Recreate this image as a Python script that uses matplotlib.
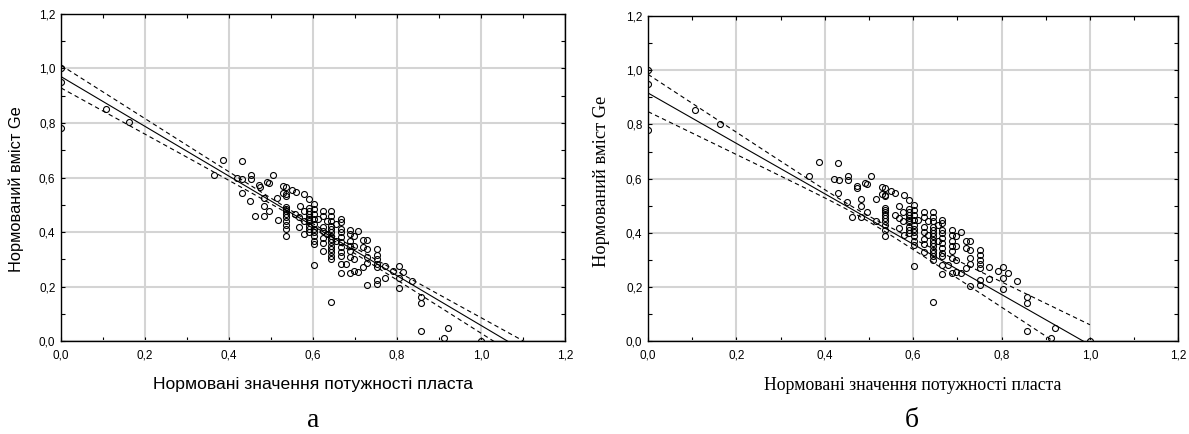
import matplotlib.pyplot as plt
from matplotlib.ticker import MultipleLocator, FuncFormatter
import numpy as np

# normalised layer thickness (x) and normalised Ge content (y)
x_vals = [0.0, 0.0, 0.0, 0.107, 0.162,
          0.364, 0.387, 0.431, 0.42, 0.432, 0.452, 0.452, 0.504, 0.431, 0.474, 0.495,
          0.451, 0.462, 0.483, 0.483, 0.483, 0.495, 0.515, 0.516,
          0.537, 0.537, 0.537, 0.537, 0.537, 0.537, 0.537, 0.537, 0.537, 0.537, 0.537, 0.537,
          0.56, 0.58, 0.59, 0.569, 0.558, 0.568, 0.568, 0.58, 0.578, 0.578,
          0.59, 0.59, 0.59, 0.59, 0.59, 0.59, 0.59, 0.59, 0.59,
          0.602, 0.602, 0.602, 0.602, 0.602, 0.602, 0.602, 0.602, 0.602, 0.602, 0.602,
          0.612, 0.624, 0.624, 0.624, 0.624, 0.624, 0.624, 0.624, 0.634, 0.634,
          0.644, 0.644, 0.644, 0.644, 0.644, 0.644, 0.644, 0.644, 0.644, 0.644, 0.644, 0.644,
          0.644, 0.644, 0.644,
          0.656, 0.656,
          0.666, 0.666, 0.666, 0.666, 0.666, 0.666, 0.666, 0.666, 0.666, 0.666, 0.666,
          0.678,
          0.688, 0.688, 0.688, 0.688, 0.688, 0.688, 0.688,
          0.697, 0.697, 0.697, 0.697, 0.708, 0.708, 0.719, 0.719, 0.719,
          0.729, 0.729, 0.729, 0.729, 0.729,
          0.752, 0.752, 0.752, 0.752, 0.752, 0.752, 0.752,
          0.771, 0.771, 0.792, 0.804, 0.804, 0.804, 0.814, 0.835,
          0.858, 0.858, 0.858, 0.922, 0.912, 1.0,
          0.53, 0.53, 0.55, 0.472, 0.49]
y_vals = [1.0, 0.95, 0.78, 0.853, 0.803,
          0.611, 0.663, 0.659, 0.6, 0.595, 0.611, 0.593, 0.611, 0.545, 0.567, 0.579,
          0.513, 0.458, 0.525, 0.497, 0.46, 0.476, 0.524, 0.444,
          0.567, 0.54, 0.534, 0.493, 0.485, 0.476, 0.466, 0.454, 0.442, 0.427, 0.411, 0.387,
          0.548, 0.54, 0.521, 0.497, 0.466, 0.454, 0.417, 0.393, 0.478, 0.442,
          0.488, 0.478, 0.466, 0.456, 0.448, 0.439, 0.423, 0.411, 0.399,
          0.503, 0.485, 0.466, 0.448, 0.429, 0.413, 0.401, 0.387, 0.368, 0.356, 0.278,
          0.448, 0.478, 0.46, 0.42, 0.402, 0.378, 0.358, 0.329, 0.442, 0.393,
          0.478, 0.46, 0.442, 0.423, 0.411, 0.399, 0.387, 0.374, 0.362, 0.35, 0.338, 0.325,
          0.313, 0.301, 0.143,
          0.429, 0.368,
          0.448, 0.436, 0.411, 0.399, 0.38, 0.362, 0.344, 0.325, 0.313, 0.282, 0.248,
          0.282,
          0.409, 0.393, 0.368, 0.35, 0.331, 0.307, 0.25,
          0.387, 0.35, 0.301, 0.256, 0.402, 0.252, 0.37, 0.344, 0.27,
          0.37, 0.337, 0.307, 0.286, 0.205,
          0.336, 0.317, 0.301, 0.283, 0.27, 0.225, 0.209,
          0.274, 0.231, 0.258, 0.274, 0.233, 0.193, 0.252, 0.221,
          0.163, 0.141, 0.037, 0.049, 0.012, 0.0,
          0.57, 0.543, 0.553, 0.572, 0.582]

# fitted lines: intercept, slope, band half width at centre, spread, centre, last x
fit_a = (0.970, -0.912, 0.008, 0.068, 0.60, 1.2)
fit_b = (0.916, -0.930, 0.010, 0.142, 0.48, 1.0)

x_label = "Нормовані значення потужності пласта"
y_label = "Нормований вміст Ge"
captions = ["а", "б"]


def comma(v, pos):
    return f"{v:.1f}".replace('.', ',')


fig = plt.figure(figsize=(11.89, 4.34), dpi=100)
ax1 = fig.add_axes([0.0513, 0.214, 0.4237, 0.754])
ax2 = fig.add_axes([0.545, 0.214, 0.446, 0.749])

panels = [(ax1, fit_a, 'Liberation Sans', 12.6, 11.8, -0.073, 0.465),
          (ax2, fit_b, 'Liberation Serif', 12.8, 13.2, -0.072, 0.49)]
for ax, fit, fam, xfs, yfs, ylx, yly in panels:
    ax.set_xlim(0, 1.2)
    ax.set_ylim(0, 1.2)
    ax.xaxis.set_major_locator(MultipleLocator(0.2))
    ax.yaxis.set_major_locator(MultipleLocator(0.2))
    ax.xaxis.set_minor_locator(MultipleLocator(0.1))
    ax.yaxis.set_minor_locator(MultipleLocator(0.1))
    ax.xaxis.set_major_formatter(FuncFormatter(comma))
    ax.yaxis.set_major_formatter(FuncFormatter(comma))
    ax.tick_params(which='both', direction='in', top=True, right=True,
                   length=3, width=0.8, labelsize=8.5)
    ax.tick_params(axis='x', pad=6)
    ax.tick_params(axis='y', pad=4)
    for lab in ax.get_xticklabels() + ax.get_yticklabels():
        lab.set_family('Liberation Sans')
    ax.grid(True, which='major', color='#d4d4d4', linewidth=1.5)
    ax.set_axisbelow(True)
    for s in ax.spines.values():
        s.set_linewidth(1.0)

    a, b, h0, k, xm, xe = fit
    xx = np.linspace(0, xe, 200)
    yy = a + b * xx
    hw = np.sqrt(h0 ** 2 + (k * (xx - xm)) ** 2)
    ax.plot(xx, yy, color='black', lw=0.8)
    ax.plot(xx, yy + hw, color='black', lw=0.8, dashes=(4, 3))
    ax.plot(xx, yy - hw, color='black', lw=0.8, dashes=(4, 3))

    ax.plot(x_vals, y_vals, 'o', mfc='none', mec='black', ms=4.3, mew=0.8)

    ax.set_xlabel(x_label, family=fam, fontsize=xfs, labelpad=11)
    ax.set_ylabel(y_label, family=fam, fontsize=yfs)
    ax.yaxis.set_label_coords(ylx, yly)

fig.text(313 / 1189, 0.032, captions[0], family='Liberation Serif', fontsize=20,
         ha='center', va='center')
fig.text(912 / 1189, 0.032, captions[1], family='Liberation Serif', fontsize=20,
         ha='center', va='center')

fig.savefig('out.png', dpi=100)
